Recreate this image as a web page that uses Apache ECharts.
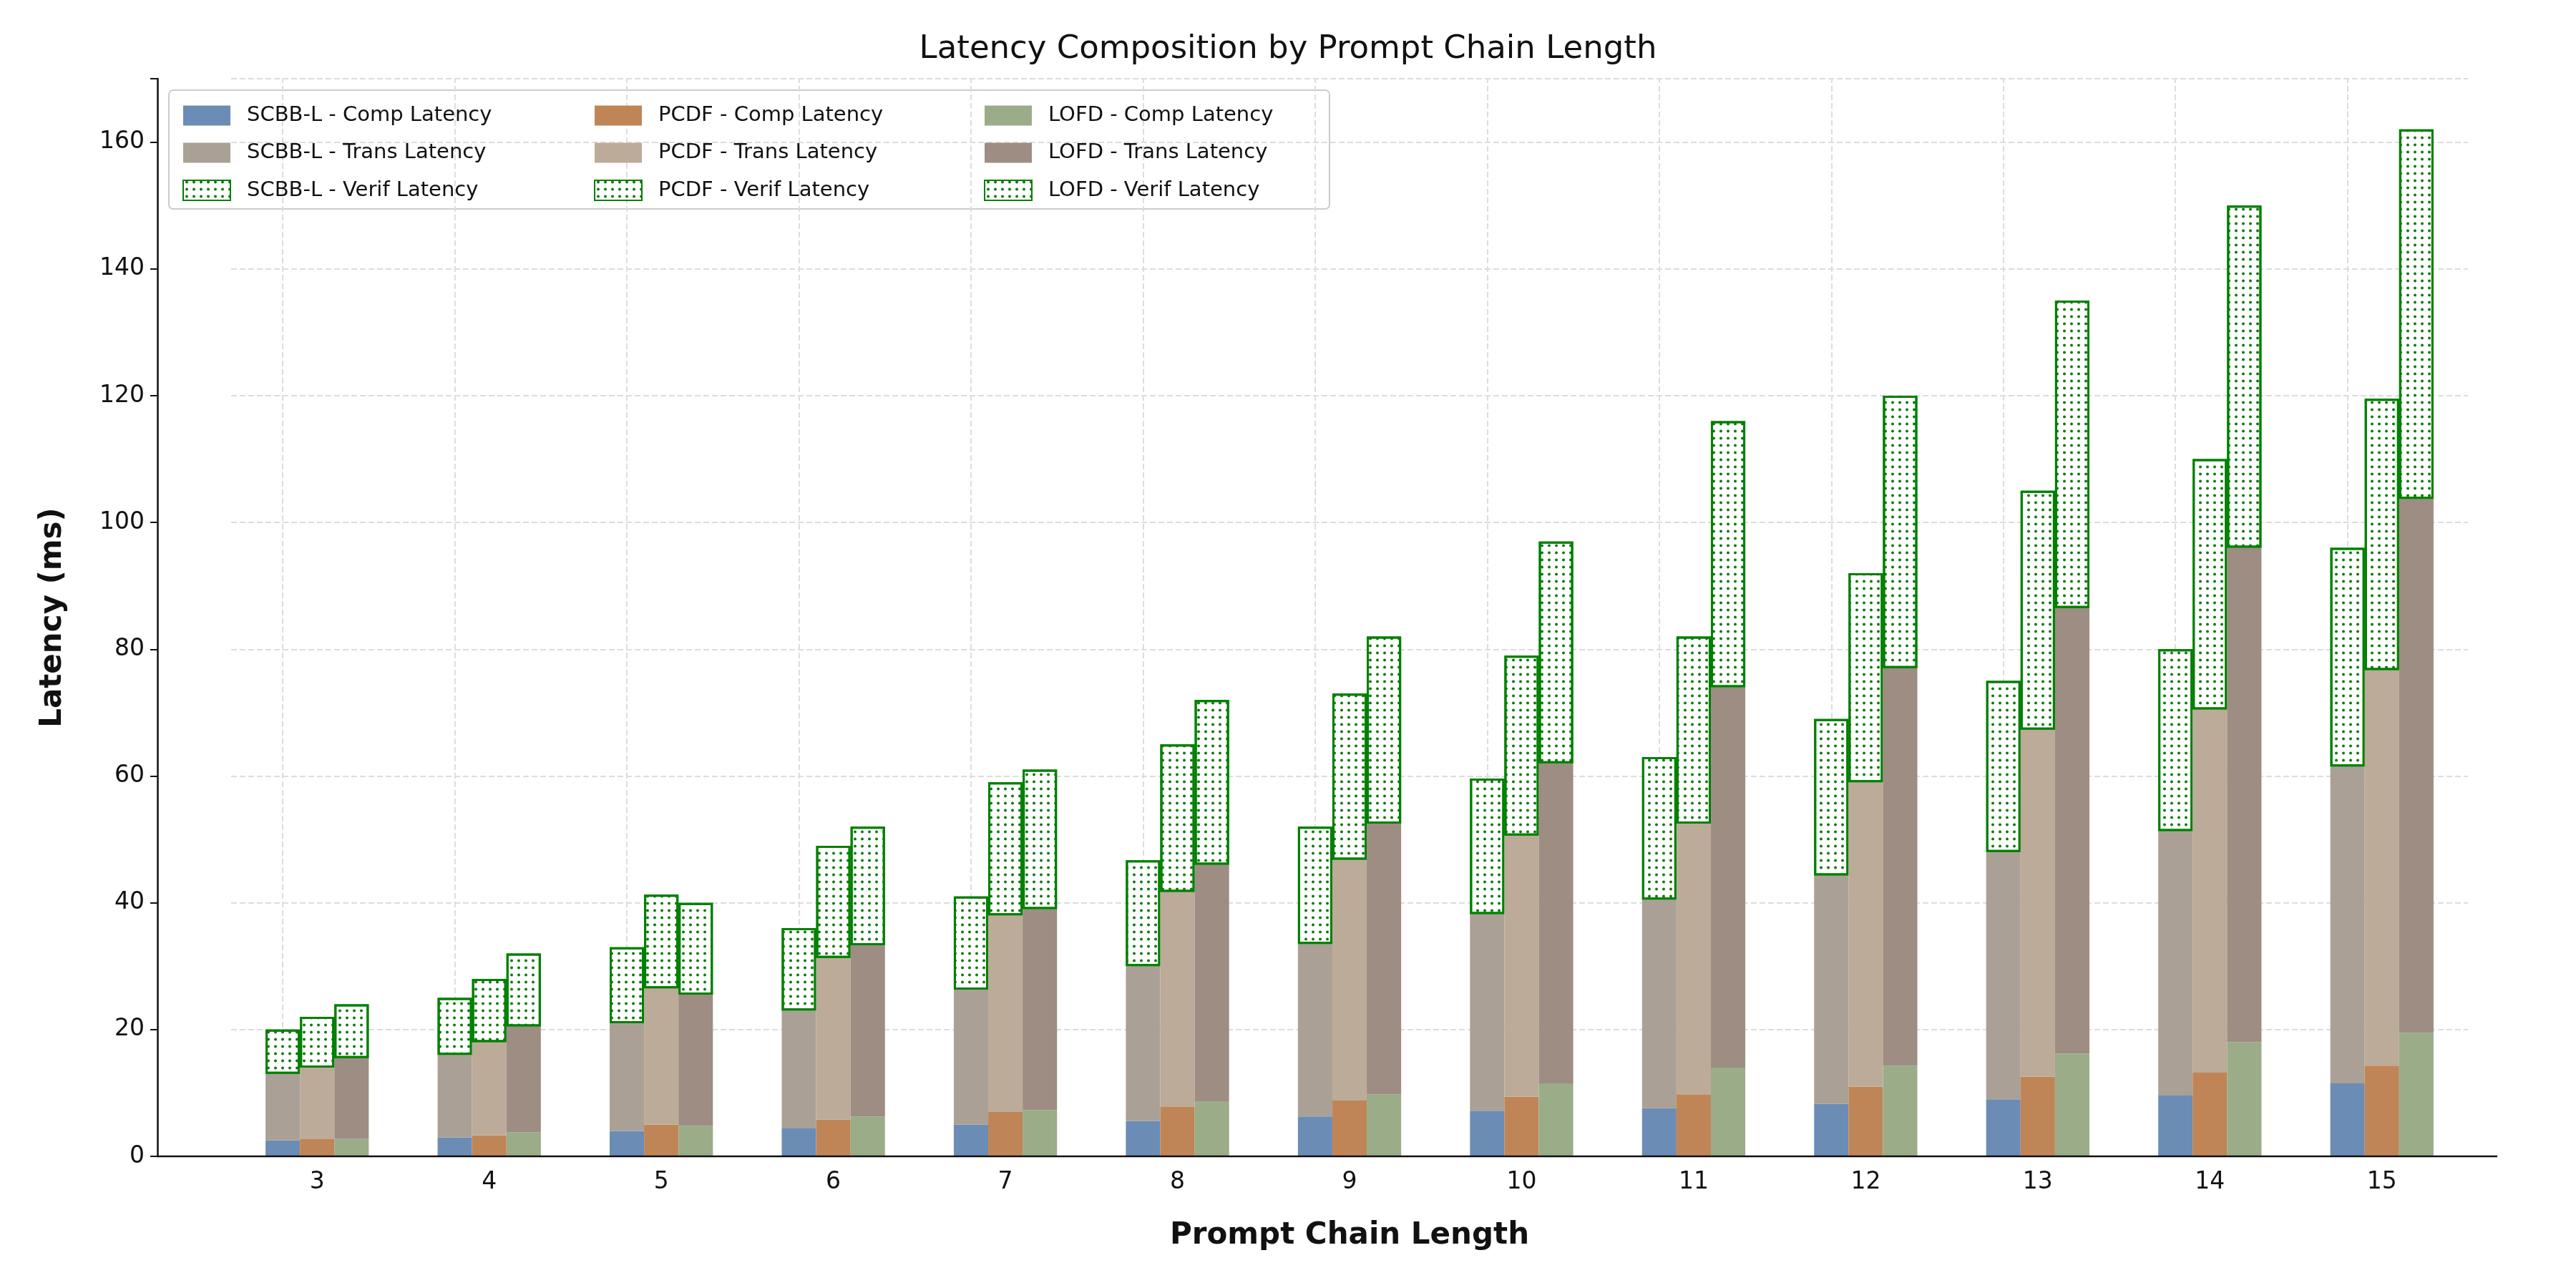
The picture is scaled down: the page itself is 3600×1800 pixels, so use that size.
<!DOCTYPE html>
<html><head><meta charset="utf-8">
<script src="https://cdn.jsdelivr.net/npm/echarts@6/dist/echarts.min.js"></script>
<style>html,body{margin:0;background:#fff}#main{width:3600px;height:1800px}</style>
</head><body><div id="main"></div>
<script>
var lengths = ['3','4','5','6','7','8','9','10','11','12','13','14','15'];
var yTicks = [0,20,40,60,80,100,120,140,160];
// computation segment, top of transmission, top of verification
var scbbComp = [2.5,3,4,4.5,5,5.6,6.3,7.2,7.6,8.3,9,9.6,11.5];
var scbbTransTop = [13,16,21,23,26.3,30,33.5,38.2,40.5,44.3,48,51.3,61.5];
var scbbTop = [20,25,33,36,41,46.7,52,59.6,63,69,75,80,96];
var pcdfComp = [2.7,3.3,5,5.8,7,7.8,8.8,9.4,9.8,11,12.6,13.2,14.3];
var pcdfTransTop = [14,18,26.5,31.3,38,41.7,46.8,50.6,52.5,59,67.3,70.5,76.7];
var pcdfTop = [22,28,41.3,49,59,65,73,79,82,92,105,110,119.5];
var lofdComp = [2.8,3.8,4.8,6.3,7.3,8.6,9.8,11.5,14,14.3,16.2,18,19.5];
var lofdTransTop = [15.5,20.5,25.5,33.3,39,46,52.5,62,74,77,86.5,96,103.7];
var lofdTop = [24,32,40,52,61,72,82,97,116,120,135,150,162];

function diff(a,b){ return a.map(function(v,i){ return +(v-b[i]).toFixed(2); }); }

var dots = {symbol:'circle', symbolSize:0.8, color:'#0a7a0a', dashArrayX:[10,0], dashArrayY:[5,5], rotation:0};
var verifStyle = {color:'#ffffff', borderColor:'#008000', borderWidth:3, decal:dots};

var methods = [
  {name:'SCBB-L', comp:scbbComp, tt:scbbTransTop, top:scbbTop, c1:'#6b8cb5', c2:'#aba095'},
  {name:'PCDF', comp:pcdfComp, tt:pcdfTransTop, top:pcdfTop, c1:'#c08556', c2:'#bcab98'},
  {name:'LOFD', comp:lofdComp, tt:lofdTransTop, top:lofdTop, c1:'#9aac88', c2:'#9d8d82'}
];
var gridStyle = {type:'dashed', color:'#ddd', width:2};
var series = [];
methods.forEach(function(m){
  series.push({name:m.name+' - Comp Latency', type:'bar', stack:m.name, barWidth:'20%', barGap:'0%', data:m.comp, itemStyle:{color:m.c1}});
  series.push({name:m.name+' - Trans Latency', type:'bar', stack:m.name, barWidth:'20%', barGap:'0%', data:diff(m.tt,m.comp), itemStyle:{color:m.c2}});
  series.push({name:m.name+' - Verif Latency', type:'bar', stack:m.name, barWidth:'20%', barGap:'0%', data:diff(m.top,m.tt), itemStyle:verifStyle});
});
// vertical grid lines at category centres
series[0].markLine = {silent:true, symbol:'none', label:{show:false}, lineStyle:gridStyle, z:0,
  data:lengths.map(function(c){ return {xAxis:c}; })};

var legends = methods.map(function(m,i){
  return {orient:'vertical', left:[250,825,1370][i], top:142, icon:'rect', itemWidth:66, itemHeight:28, itemGap:23,
    textStyle:{fontSize:29, color:'#111', fontFamily:'DejaVu Sans', padding:[0,0,0,18]},
    data:[m.name+' - Comp Latency', m.name+' - Trans Latency', m.name+' - Verif Latency']};
});
var chart = echarts.init(document.getElementById('main'));
chart.setOption({
  backgroundColor:'#fff',
  animation:false,
  title:{text:'Latency Composition by Prompt Chain Length', left:'center', top:42, textStyle:{fontSize:45, fontWeight:'normal', color:'#111', fontFamily:'DejaVu Sans'}},
  legend:legends,
  graphic:[
    {type:'rect', shape:{x:236,y:126,width:1622,height:166,r:6}, style:{fill:'rgba(255,255,255,0.8)', stroke:'#ccc', lineWidth:2}, z:-1},
    {type:'line', shape:{x1:219,y1:1616,x2:3490,y2:1616}, style:{stroke:'#111', lineWidth:2.5}, z:10}
  ],
  grid:{left:323, right:151, top:110, bottom:184},
  xAxis:{type:'category', data:lengths, name:'Prompt Chain Length', nameLocation:'middle', nameGap:90,
    nameTextStyle:{fontSize:42, fontWeight:'bold', color:'#111', fontFamily:'DejaVu Sans'},
    axisLine:{show:false}, axisTick:{alignWithLabel:true, length:10, lineStyle:{color:'#111', width:2}},
    axisLabel:{fontSize:33, color:'#111', margin:20, fontFamily:'DejaVu Sans'},
    splitLine:{show:false}},
  yAxis:{type:'value', min:0, max:170, interval:20, offset:103, name:'Latency (ms)', nameLocation:'middle', nameGap:125,
    nameTextStyle:{fontSize:42, fontWeight:'bold', color:'#111', fontFamily:'DejaVu Sans'},
    axisLine:{show:true, lineStyle:{color:'#111', width:2.5}}, axisTick:{show:true, length:10, lineStyle:{color:'#111', width:2}},
    axisLabel:{fontSize:33, color:'#111', margin:18, fontFamily:'DejaVu Sans',
      formatter:function(v){ return yTicks.indexOf(v) >= 0 ? v : ''; }},
    splitLine:{show:true, lineStyle:gridStyle}},
  series:series
});
</script></body></html>
